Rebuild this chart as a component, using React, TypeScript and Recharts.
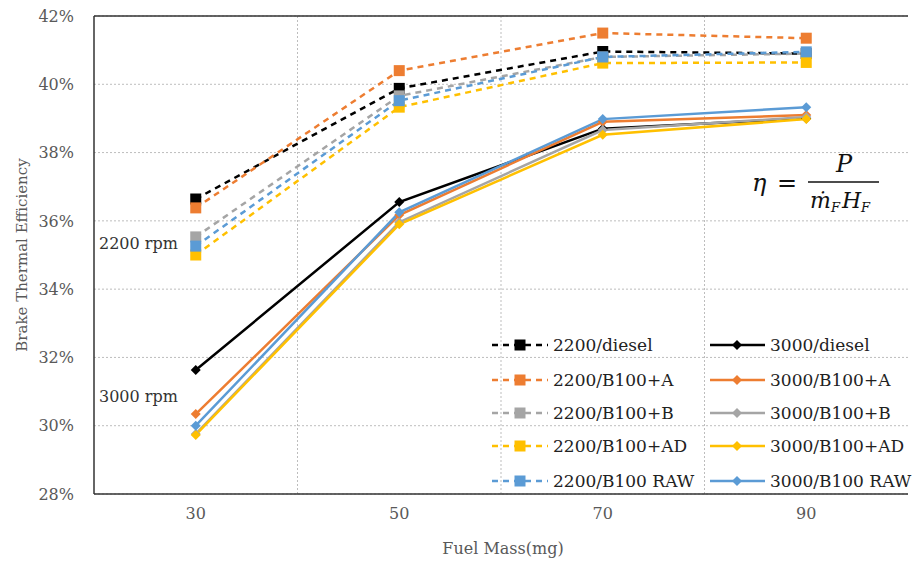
import React from 'react'
import { LineChart, Line, XAxis, YAxis, CartesianGrid, ReferenceLine } from 'recharts'

// fuel mass (mg)
const fuelMass = [30, 50, 70, 90]
const yTicks = [28, 30, 32, 34, 36, 38, 40, 42]

// brake thermal efficiency (%), 2200 rpm
const e2200Diesel = [36.64, 39.88, 40.96, 40.9]
const e2200A = [36.38, 40.4, 41.5, 41.35]
const e2200B = [35.53, 39.66, 40.8, 40.9]
const e2200AD = [35.0, 39.33, 40.62, 40.64]
const e2200Raw = [35.26, 39.52, 40.8, 40.95]

// brake thermal efficiency (%), 3000 rpm
const e3000Diesel = [31.63, 36.55, 38.7, 39.0]
const e3000A = [30.34, 36.17, 38.9, 39.1]
const e3000B = [29.76, 35.96, 38.66, 39.04]
const e3000AD = [29.73, 35.9, 38.52, 38.98]
const e3000Raw = [30.0, 36.25, 38.98, 39.33]

const names2200 = ['2200/diesel', '2200/B100+A', '2200/B100+B', '2200/B100+AD', '2200/B100 RAW']
const names3000 = ['3000/diesel', '3000/B100+A', '3000/B100+B', '3000/B100+AD', '3000/B100 RAW']
const colors = ['#000000', '#ED7D31', '#A5A5A5', '#FFC000', '#5B9BD5']

const values2200 = [e2200Diesel, e2200A, e2200B, e2200AD, e2200Raw]
const values3000 = [e3000Diesel, e3000A, e3000B, e3000AD, e3000Raw]

const data = fuelMass.map((x, i) => {
  const row: Record<string, number> = { x }
  values2200.forEach((v, s) => (row[names2200[s]] = v[i]))
  values3000.forEach((v, s) => (row[names3000[s]] = v[i]))
  return row
})

const FONT = '"DejaVu Serif", serif'

function squareDot(color: string) {
  return (p: any) => (
    <rect key={`sq-${p.index}`} x={p.cx - 5.5} y={p.cy - 5.5} width={11} height={11} fill={color} />
  )
}

function diamondDot(color: string) {
  return (p: any) => (
    <polygon
      key={`dm-${p.index}`}
      points={`${p.cx},${p.cy - 5} ${p.cx + 5},${p.cy} ${p.cx},${p.cy + 5} ${p.cx - 5},${p.cy}`}
      fill={color}
    />
  )
}

function LegendOverlay() {
  const rowY = [345, 380, 413, 446, 481]
  return (
    <g>
      {names2200.map((n, i) => (
        <g key={n}>
          <line x1={492} x2={548} y1={rowY[i]} y2={rowY[i]} stroke={colors[i]} strokeWidth={2.5} strokeDasharray="6 5" />
          <rect x={514.5} y={rowY[i] - 5.5} width={11} height={11} fill={colors[i]} />
          <text x={553} y={rowY[i] + 6} fontFamily={FONT} fontSize={17} fill="#222">{n}</text>
        </g>
      ))}
      {names3000.map((n, i) => (
        <g key={n}>
          <line x1={710} x2={765} y1={rowY[i]} y2={rowY[i]} stroke={colors[i]} strokeWidth={2.5} />
          <polygon
            points={`737,${rowY[i] - 5} 742,${rowY[i]} 737,${rowY[i] + 5} 732,${rowY[i]}`}
            fill={colors[i]}
          />
          <text x={770} y={rowY[i] + 6} fontFamily={FONT} fontSize={17} fill="#222">{n}</text>
        </g>
      ))}
    </g>
  )
}

export default function App() {
  return (
    <div style={{ position: 'absolute', left: 0, top: 0, width: 912, height: 565, background: '#fff' }}>
      <LineChart width={912} height={565} data={data} margin={{ top: 16, right: 4, bottom: 41, left: 0 }}>
        <CartesianGrid vertical={false} stroke="#bdbdbd" strokeDasharray="2 2" />
        <XAxis
          dataKey="x"
          type="number"
          domain={[20, 100]}
          ticks={fuelMass}
          height={30}
          tickLine={false}
          axisLine={{ stroke: '#333', strokeWidth: 1.5 }}
          tick={{ fontFamily: FONT, fontSize: 16, fill: '#595959' }}
          tickMargin={8}
        />
        <YAxis
          type="number"
          domain={[28, 42]}
          ticks={yTicks}
          width={94}
          interval={0}
          tickLine={false}
          axisLine={{ stroke: '#333', strokeWidth: 1.5 }}
          tickFormatter={(v) => `${v}%`}
          tick={{ fontFamily: FONT, fontSize: 16, fill: '#595959' }}
          tickMargin={14}
        />
        {[40, 60, 80].map((v) => (
          <ReferenceLine key={v} x={v} stroke="#bdbdbd" strokeDasharray="2 2" />
        ))}
        <ReferenceLine y={42} stroke="#333" strokeWidth={1.5} />
        {names2200.map((n, i) => (
          <Line
            key={n}
            dataKey={n}
            stroke={colors[i]}
            strokeWidth={2.5}
            strokeDasharray="6 5"
            dot={squareDot(colors[i])}
            activeDot={false}
            isAnimationActive={false}
          />
        ))}
        {names3000.map((n, i) => (
          <Line
            key={n}
            dataKey={n}
            stroke={colors[i]}
            strokeWidth={2.5}
            dot={diamondDot(colors[i])}
            activeDot={false}
            isAnimationActive={false}
          />
        ))}
      </LineChart>
      <svg width={912} height={565} style={{ position: 'absolute', left: 0, top: 0, pointerEvents: 'none' }}>
        <LegendOverlay />
        <text x={99} y={249} fontFamily={FONT} fontSize={16} fill="#333">2200 rpm</text>
        <text x={99} y={402} fontFamily={FONT} fontSize={16} fill="#333">3000 rpm</text>
        <text
          transform="translate(27,255) rotate(-90)"
          textAnchor="middle"
          fontFamily={FONT}
          fontSize={15}
          fill="#595959"
        >
          Brake Thermal Efficiency
        </text>
        <text x={503} y={554} textAnchor="middle" fontFamily={FONT} fontSize={16} fill="#595959">Fuel Mass(mg)</text>
        {/* efficiency formula */}
        <g fontFamily={FONT} fill="#111">
          <text x={752} y={191} fontSize={24} fontStyle="italic">η</text>
          <text x={777} y={191} fontSize={24}>=</text>
          <text x={844} y={172} fontSize={24} fontStyle="italic" textAnchor="middle">P</text>
          <line x1={808} x2={879} y1={182} y2={182} stroke="#111" strokeWidth={1.5} />
          <text x={810} y={208} fontSize={22} fontStyle="italic">
            {'m\u0307'}
            <tspan fontSize={13} dy={4}>F</tspan>
            <tspan fontSize={22} dy={-4} dx={2}>H</tspan>
            <tspan fontSize={13} dy={4}>F</tspan>
          </text>
        </g>
      </svg>
    </div>
  )
}
